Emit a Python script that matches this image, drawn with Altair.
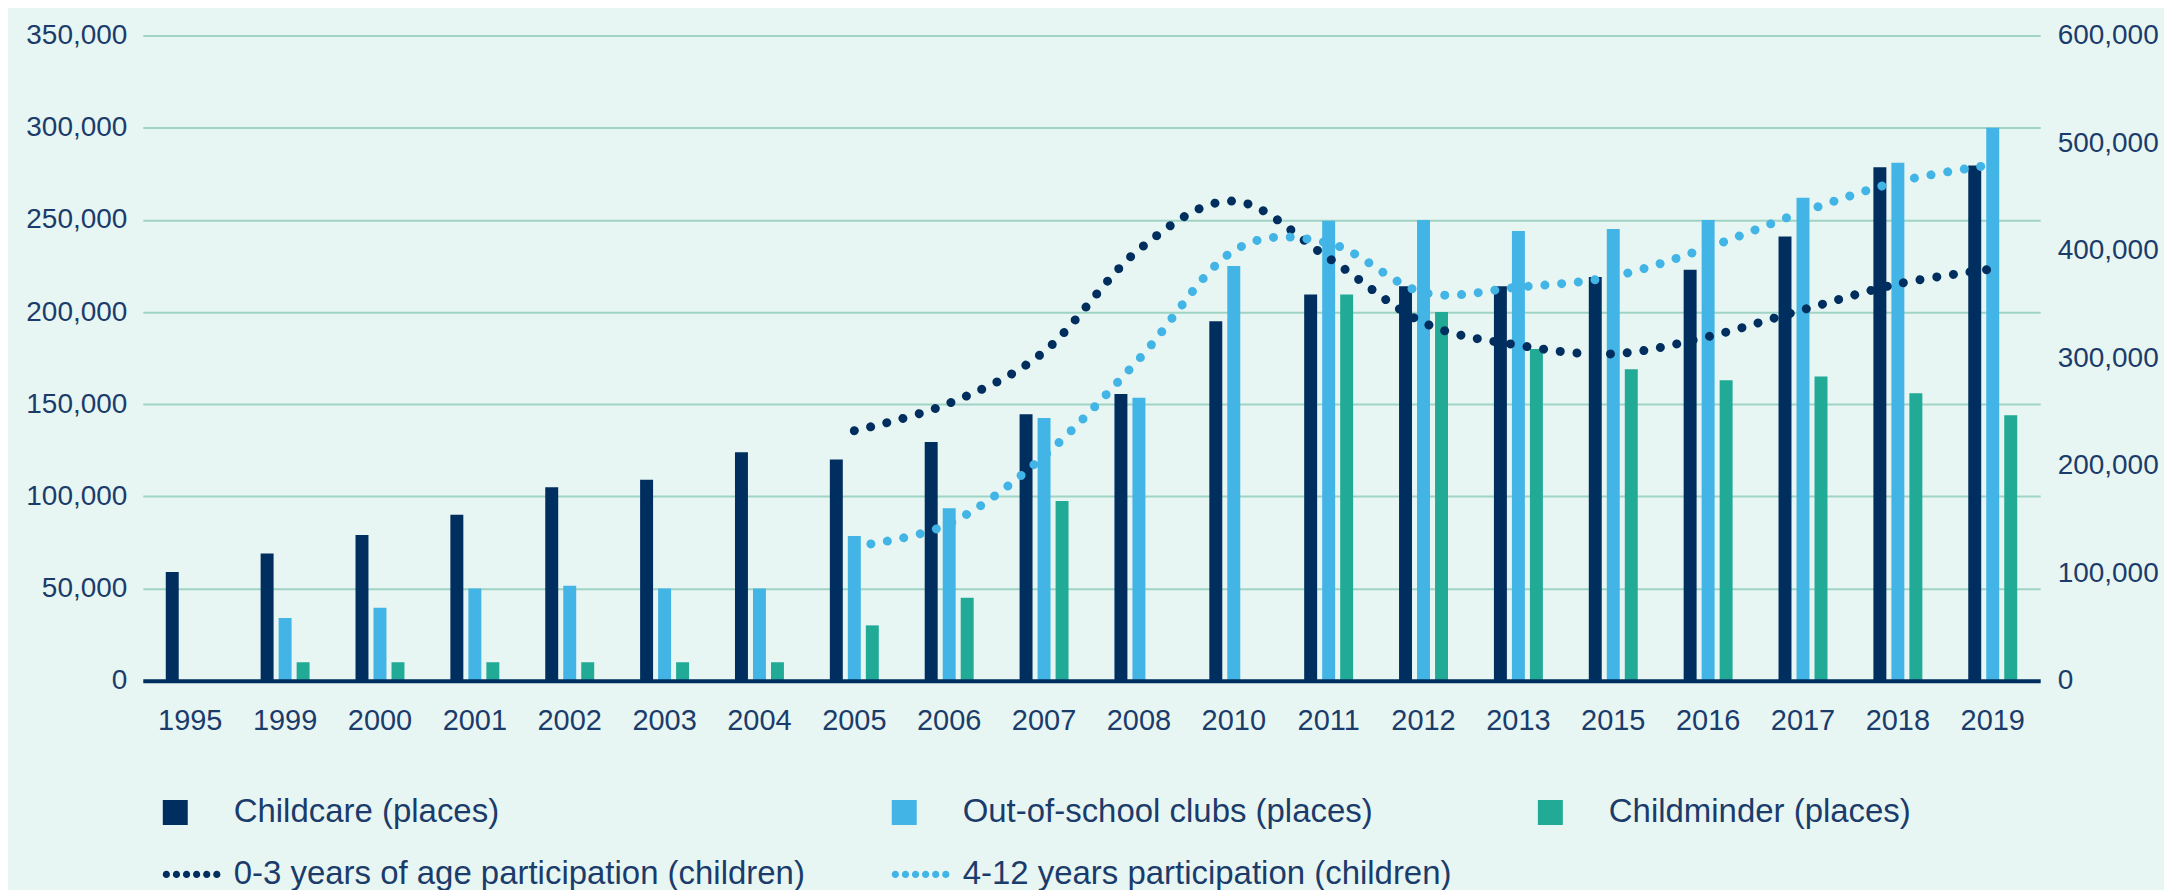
import altair as alt
import pandas as pd

# ---------------- data ----------------
years = ["1995", "1999", "2000", "2001", "2002", "2003", "2004", "2005", "2006", "2007",
         "2008", "2010", "2011", "2012", "2013", "2015", "2016", "2017", "2018", "2019"]
childcare = [59000, 69000, 79000, 90000, 105000, 109000, 124000, 120000, 129500, 144500,
             155500, 195000, 209500, 214000, 214000, 219000, 223000, 241000, 278500, 279500]
out_of_school = [None, 34000, 39500, 50000, 51500, 50000, 50000, 78500, 93500, 142500,
                 153500, 225000, 249500, 250000, 244000, 245000, 250000, 262000, 281000, 300000]
childminder = [None, 10000, 10000, 10000, 10000, 10000, 10000, 30000, 45000, 97500,
               None, None, 209500, 200000, 180000, 169000, 163000, 165000, 156000, 144000]

line_years = ["2005", "2006", "2007", "2008", "2010", "2011", "2012", "2013", "2015",
              "2016", "2017", "2018", "2019"]
age_0_3 = [232500, 258000, 306000, 401000, 446000, 393000, 333000, 312000, 304000,
           320000, 345000, 369000, 383000]
age_4_12 = [125000, 146000, 209000, 299000, 400000, 407000, 361000, 366000, 376000,
            403000, 436000, 464000, 480000]

bar_series = ["Childcare (places)", "Out-of-school clubs (places)", "Childminder (places)"]
line_series = ["0-3 years of age participation (children)", "4-12 years participation (children)"]
all_series = bar_series + line_series

# ---------------- styling ----------------
NAVY = "#002e5f"
LIGHT = "#42b4e6"
TEAL = "#21aa96"
BG = "#e8f6f3"
GRID = "#9fd3c4"
TEXT = "#1b3c6b"
AXIS_FONT = "Liberation Sans, Arial, sans-serif"
AXIS_SIZE = 28
bar_colors = [NAVY, LIGHT, TEAL]
line_colors = [NAVY, LIGHT]
colors = bar_colors + line_colors

# legend symbol paths (unit box [-1,1] -> 58px)
BOX = 58.0
half = BOX / 2
sq = 25 / half
square_path = f"M-1,{-sq/2:.3f}H{-1 + sq:.3f}V{sq/2:.3f}H-1Z"
r = 3.6 / half
dots = []
for k in range(6):
    cx = -1 + (3.6 + 10.1 * k) / half
    dots.append(f"M{cx - r:.3f},0A{r:.3f},{r:.3f} 0 1,0 {cx + r:.3f},0A{r:.3f},{r:.3f} 0 1,0 {cx - r:.3f},0Z")
dots_path = "".join(dots)
shapes = [square_path, square_path, square_path, dots_path, dots_path]

# ---------------- frames ----------------
rows = []
for name, vals in zip(bar_series, [childcare, out_of_school, childminder]):
    for y, v in zip(years, vals):
        if v is not None:
            rows.append({"year": y, "series": name, "value": v})
bars_df = pd.DataFrame(rows)

lrows = []
for name, vals in zip(line_series, [age_0_3, age_4_12]):
    for y, v in zip(line_years, vals):
        lrows.append({"year": y, "series": name, "value": v})
lines_df = pd.DataFrame(lrows)

legend_df = pd.DataFrame({"series": all_series})

x_scale = alt.Scale(domain=years, paddingInner=0.484, paddingOuter=0.242)

x_enc = alt.X("year:N", sort=years, scale=x_scale,
              axis=alt.Axis(title=None, labelAngle=0, ticks=False, grid=False,
                            domainColor=NAVY, domainWidth=4, labelPadding=26,
                            labelFont=AXIS_FONT, labelFontSize=AXIS_SIZE + 1, labelColor=TEXT, zindex=1))

bars = alt.Chart(bars_df).mark_bar().encode(
    x=x_enc,
    xOffset=alt.XOffset("series:N", sort=bar_series,
                        scale=alt.Scale(domain=bar_series, paddingInner=0.28, paddingOuter=0)),
    y=alt.Y("value:Q", scale=alt.Scale(domain=[0, 350000], nice=False),
            axis=alt.Axis(title=None, values=[0, 50000, 100000, 150000, 200000, 250000, 300000, 350000],
                          format=",.0f", grid=True, gridColor=GRID, gridWidth=2, domain=False,
                          ticks=False, labelPadding=16,
                          labelFont=AXIS_FONT, labelFontSize=AXIS_SIZE, labelColor=TEXT)),
    fill=alt.Fill("series:N", scale=alt.Scale(domain=bar_series, range=bar_colors), legend=None),
)

lines = alt.Chart(lines_df).mark_line(
    interpolate="cardinal", strokeWidth=9, strokeCap="round", strokeDash=[0.01, 16.8]
).encode(
    x=alt.X("year:N", sort=years, scale=x_scale),
    y=alt.Y("value:Q", scale=alt.Scale(domain=[0, 600000], nice=False),
            axis=alt.Axis(title=None, orient="right",
                          values=[0, 100000, 200000, 300000, 400000, 500000, 600000],
                          format=",.0f", grid=False, domain=False, ticks=False, labelPadding=17,
                          labelFont=AXIS_FONT, labelFontSize=AXIS_SIZE, labelColor=TEXT)),
    stroke=alt.Stroke("series:N", scale=alt.Scale(domain=line_series, range=line_colors), legend=None),
    detail="series:N",
)

pts = alt.Chart(legend_df).mark_point(filled=True, size=BOX * BOX).encode(
    color=alt.Color("series:N", scale=alt.Scale(domain=all_series, range=colors), title=None),
    shape=alt.Shape("series:N", scale=alt.Scale(domain=all_series, range=shapes), title=None),
    opacity=alt.value(0),
)

chart = alt.layer(bars, lines, pts).resolve_scale(y="independent").properties(
    width=1900, height=646,
    autosize=alt.AutoSizeParams(type="none"),
    padding={"left": 135, "top": 27, "right": 124, "bottom": 209},
    background=BG,
).configure_view(stroke=None).configure_legend(
    orient="none", legendX=20, legendY=749, direction="horizontal", columns=3,
    symbolSize=BOX * BOX, symbolStrokeWidth=0, symbolOpacity=1, labelOffset=13,
    labelFont="Liberation Sans", labelFontSize=33, labelColor=TEXT, labelLimit=2000,
    columnPadding=86, rowPadding=16, padding=0,
)

chart.save("out.html", embed_options={"renderer": "svg", "actions": False})
